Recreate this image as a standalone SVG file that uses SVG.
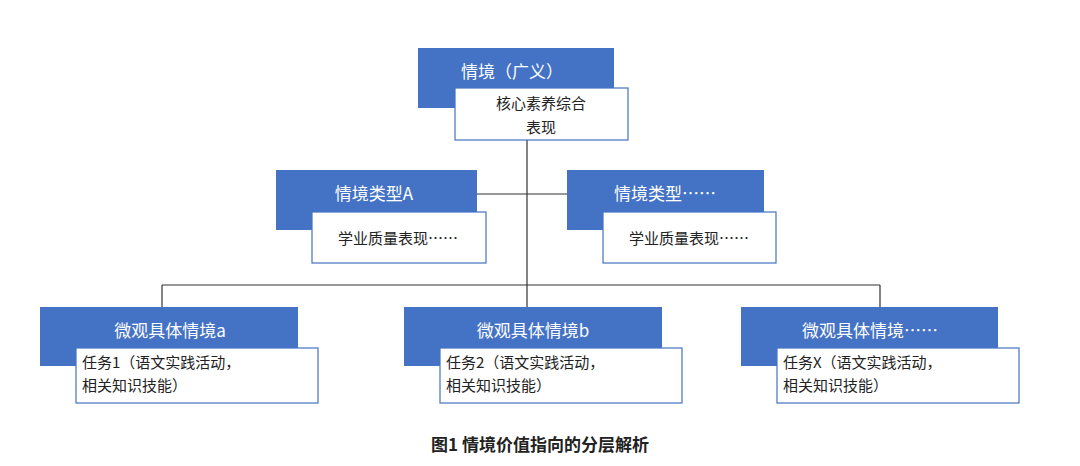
<svg xmlns="http://www.w3.org/2000/svg" width="1080" height="466" viewBox="0 0 1080 466">
<style>
.b{fill:#4472C4}
.w{fill:#fff;stroke:#4472C4;stroke-width:1.2}
.tb{font-family:"Noto Sans CJK SC","Noto Sans",sans-serif;font-size:17px;fill:#fff}
.tw{font-family:"Noto Sans CJK SC","Noto Sans",sans-serif;font-size:15px;fill:#222}
.ln{stroke:#333;stroke-width:1.2;fill:none}
</style>
<rect width="1080" height="466" fill="#fff"/>
<g id="connectors">
<path class="ln" d="M527,140V285M477,194H567M162,285H880M162,285V307M527,285V307M880,285V307"/>
</g>
<g id="top">
<rect class="b" x="418" y="48" width="196" height="60"/>
<text class="tb" x="512" y="78" text-anchor="middle">情境（广义）</text>
<rect class="w" x="455" y="88" width="173" height="52"/>
<text class="tw" x="541" y="109" text-anchor="middle">核心素养综合</text>
<text class="tw" x="541" y="133" text-anchor="middle">表现</text>
</g>
<g id="typeA">
<rect class="b" x="276" y="170" width="201" height="60"/>
<text class="tb" x="374" y="200" text-anchor="middle">情境类型A</text>
<rect class="w" x="312" y="212" width="174" height="51"/>
<text class="tw" x="398" y="244" text-anchor="middle">学业质量表现……</text>
</g>
<g id="typeX">
<rect class="b" x="567" y="170" width="197" height="60"/>
<text class="tb" x="665" y="200" text-anchor="middle">情境类型……</text>
<rect class="w" x="603" y="212" width="173" height="51"/>
<text class="tw" x="689" y="244" text-anchor="middle">学业质量表现……</text>
</g>
<g id="microA">
<rect class="b" x="40" y="307" width="258" height="59"/>
<text class="tb" x="170" y="337" text-anchor="middle">微观具体情境a</text>
<rect class="w" x="76" y="348" width="242" height="55"/>
<text class="tw" x="82" y="368">任务1（语文实践活动，</text>
<text class="tw" x="82" y="391">相关知识技能）</text>
</g>
<g id="microB">
<rect class="b" x="404" y="307" width="258" height="59"/>
<text class="tb" x="533" y="337" text-anchor="middle">微观具体情境b</text>
<rect class="w" x="440" y="348" width="242" height="55"/>
<text class="tw" x="446" y="368">任务2（语文实践活动，</text>
<text class="tw" x="446" y="391">相关知识技能）</text>
</g>
<g id="microX">
<rect class="b" x="741" y="307" width="257" height="59"/>
<text class="tb" x="870" y="337" text-anchor="middle">微观具体情境……</text>
<rect class="w" x="777" y="348" width="242" height="55"/>
<text class="tw" x="783" y="368">任务X（语文实践活动，</text>
<text class="tw" x="783" y="391">相关知识技能）</text>
</g>
<text x="540" y="451" text-anchor="middle" font-family="Noto Sans CJK SC,sans-serif" font-size="17" font-weight="bold" fill="#222">图1  情境价值指向的分层解析</text>
</svg>
